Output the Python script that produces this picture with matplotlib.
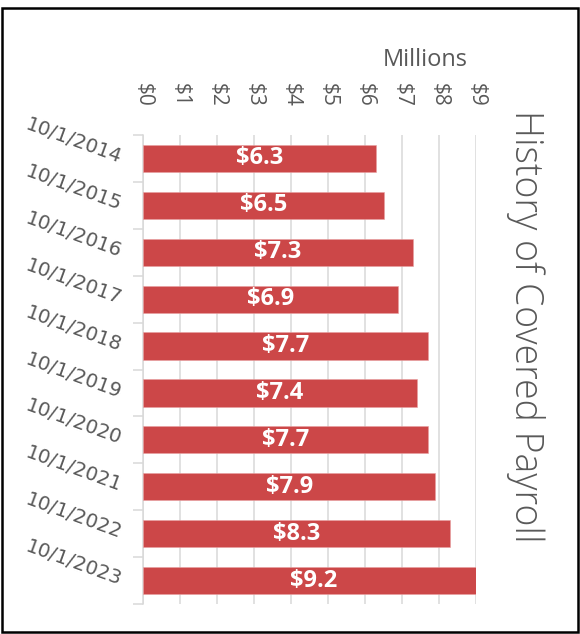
import matplotlib
matplotlib.use("Agg")
import matplotlib.pyplot as plt
from matplotlib.patches import Rectangle
from matplotlib.ticker import FixedLocator

categories = ["10/1/2014", "10/1/2015", "10/1/2016", "10/1/2017", "10/1/2018",
              "10/1/2019", "10/1/2020", "10/1/2021", "10/1/2022", "10/1/2023"]
payroll_millions = [6.3, 6.5, 7.3, 6.9, 7.7, 7.4, 7.7, 7.9, 8.3, 9.2]
x_ticks = list(range(0, 10))
x_tick_labels = [f"${t}" for t in x_ticks]
title = "History of Covered Payroll"
unit_label = "Millions"

bar_color = "#CC4748"
text_color = "#595959"
grid_color = "#D9D9D9"

fig = plt.figure(figsize=(5.8, 6.34), dpi=100)
ax = fig.add_axes([143 / 580, 1 - 604 / 634, (476 - 143) / 580, (604 - 135) / 634])

y = list(range(len(categories)))
ax.barh(y, payroll_millions, height=0.58, color=bar_color, edgecolor="#E8A0A0",
        linewidth=0.4, zorder=3)
ax.set_xlim(0, 9)
ax.set_ylim(len(categories) - 0.5, -0.5)

for yi, v in zip(y, payroll_millions):
    ax.text(v / 2, yi, f"${v:.1f}", color="white", fontweight="bold",
            fontsize=17, ha="center", va="center", family="Open Sans", zorder=4,
            clip_on=False)

# x axis on top
ax.xaxis.set_ticks_position("top")
ax.set_xticks(x_ticks)
ax.set_xticklabels(x_tick_labels, rotation=-90, color=text_color, fontsize=15,
                   family="Open Sans")
ax.tick_params(axis="x", length=0, pad=20)
ax.grid(axis="x", color=grid_color, linewidth=1.1, zorder=0)

# y axis
ax.set_yticks(y)
ax.set_yticklabels(categories, rotation=-20, rotation_mode="anchor", ha="right",
                   va="center", color=text_color, fontsize=14.2, family="DejaVu Sans")
ax.tick_params(axis="y", which="major", length=0, pad=16)
ax.yaxis.set_minor_locator(FixedLocator([i - 0.5 for i in range(len(categories) + 1)]))
ax.tick_params(axis="y", which="minor", length=7, width=1.1, color=grid_color)

for s in ["top", "right", "bottom"]:
    ax.spines[s].set_visible(False)
ax.spines["left"].set_color(grid_color)
ax.spines["left"].set_linewidth(1.1)

fig.text(425 / 580, 1 - 60 / 634, unit_label, ha="center", va="center",
         color=text_color, fontsize=17, family="Open Sans")
fig.text(526 / 580, 1 - 326 / 634, title, rotation=-90, ha="center", va="center",
         color=text_color, fontsize=27, family="Open Sans", fontweight="light")

fig.patches.append(Rectangle((2 / 580, 2 / 634), 576 / 580, 624 / 634,
                             transform=fig.transFigure, fill=False,
                             edgecolor="black", linewidth=1.8))

fig.savefig("out.png", dpi=100)
